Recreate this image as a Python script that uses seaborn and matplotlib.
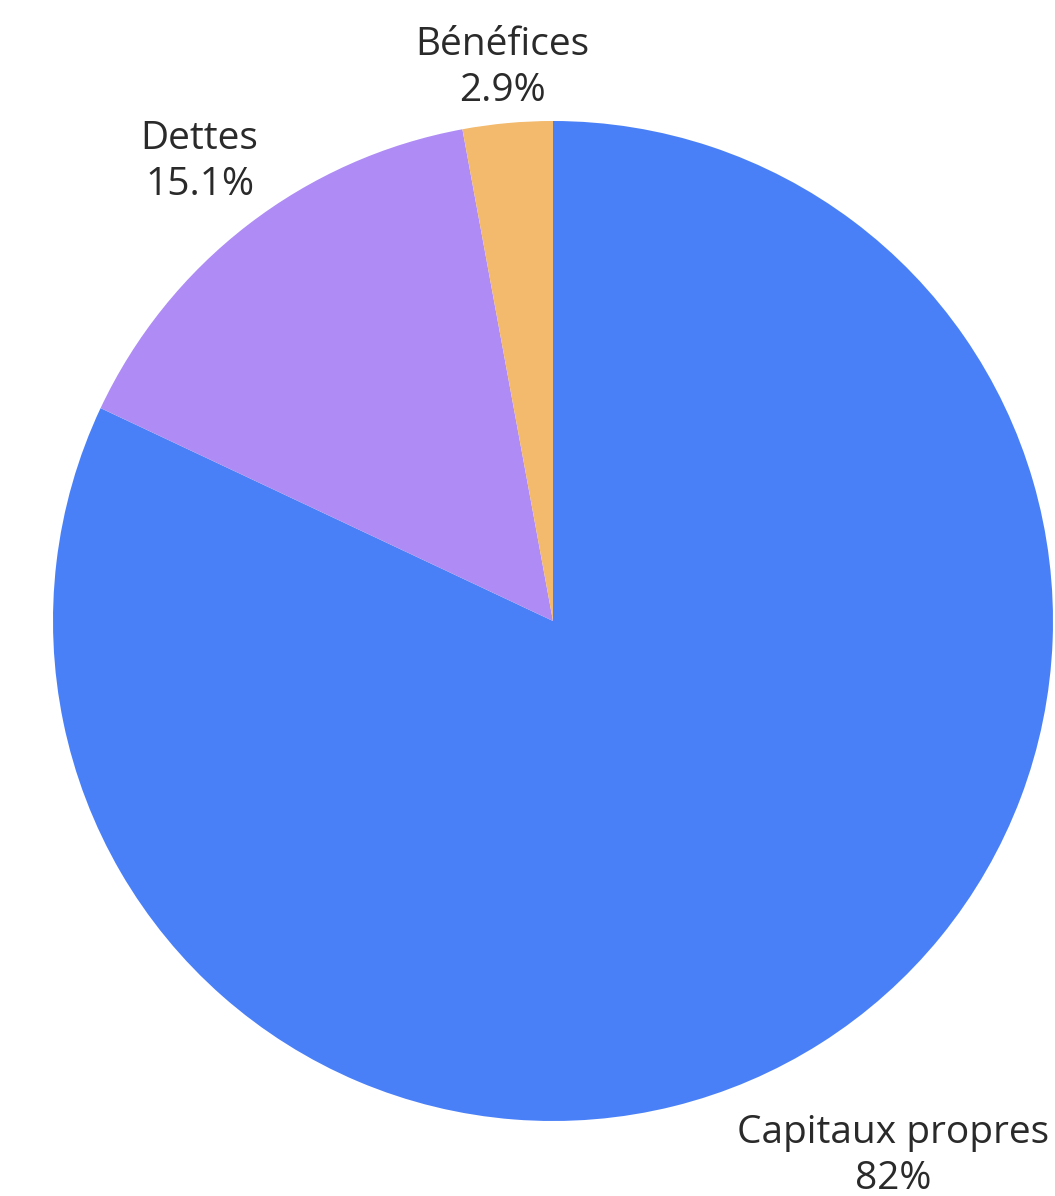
import numpy as np
import matplotlib
matplotlib.use("Agg")
import matplotlib.pyplot as plt
import seaborn as sns

labels = ["Capitaux propres", "Dettes", "Bénéfices"]
values = [82.0, 15.1, 2.9]
pct_labels = ["82%", "15.1%", "2.9%"]
colors = ["#4A80F7", "#AE8BF5", "#F3B96C"]
label_dist = [1.268, 1.158, 1.11]

sns.set_theme(style="white")
plt.rcParams['font.family'] = ['Open Sans', 'DejaVu Sans']

W, H = 1055, 1196
fig = plt.figure(figsize=(W / 100, H / 100), dpi=100)
cx, cy, r = 553, 621, 500
ax = fig.add_axes([(cx - r) / W, (H - cy - r) / H, 2 * r / W, 2 * r / H])

wedges, _ = ax.pie(values, colors=colors, startangle=90, counterclock=False,
                   radius=1.0, labeldistance=None,
                   wedgeprops=dict(linewidth=0))

for w, lab, pl, d in zip(wedges, labels, pct_labels, label_dist):
    ang = np.deg2rad((w.theta1 + w.theta2) / 2)
    x, y = d * np.cos(ang), d * np.sin(ang)
    ax.text(x, y, f"{lab}\n{pl}", ha="center", va="center", fontsize=28,
            color="#2a2a2a", linespacing=1.27)

ax.set_xlim(-1, 1)
ax.set_ylim(-1, 1)
ax.set_aspect("equal")
ax.axis("off")

fig.savefig("out.png", dpi=100, facecolor="white")
